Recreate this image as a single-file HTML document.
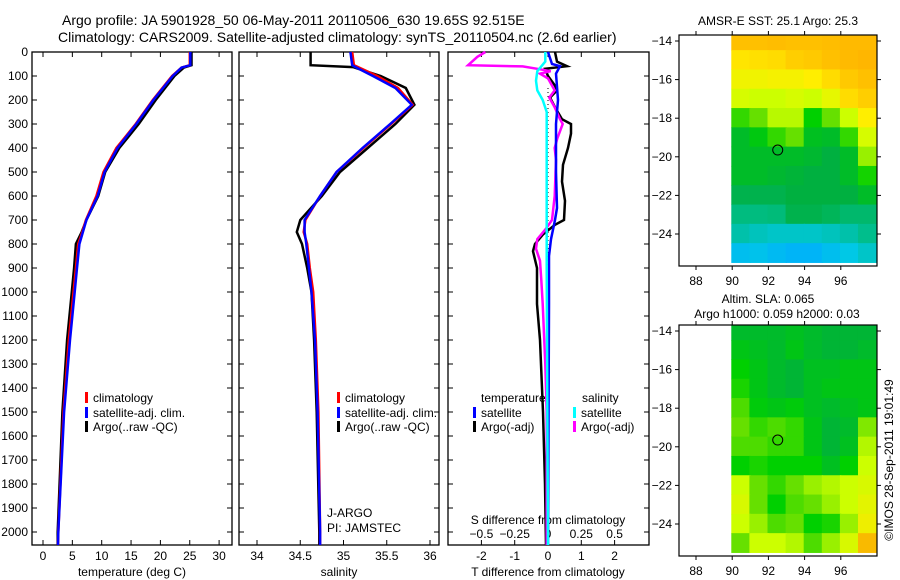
<!DOCTYPE html>
<html><head><meta charset="utf-8">
<style>
html,body{margin:0;padding:0;background:#fff;}
svg{display:block;font-family:"Liberation Sans",sans-serif;}
text{fill:#000;}
</style></head>
<body>
<svg id="chart" width="900" height="580" viewBox="0 0 900 580" xmlns="http://www.w3.org/2000/svg">
<text x="62" y="25" font-size="14">Argo profile: JA 5901928_50 06-May-2011 20110506_630 19.65S 92.515E</text>
<text x="58" y="42" font-size="14">Climatology: CARS2009. Satellite-adjusted climatology: synTS_20110504.nc (2.6d earlier)</text>
</svg>
<script>
// ---------- DATA ----------
const tDepths=[0,55,65,100,200,300,400,500,600,700,750,800,900,1000,1200,1500,2000,2054];
const tClim=[25.0,25.0,23.6,22.0,18.7,15.8,12.5,10.3,9.1,7.3,6.7,6.0,5.6,5.2,4.4,3.5,2.6,2.55];
const tSat=[25.1,25.1,23.6,22.1,18.8,15.9,12.7,10.5,9.3,7.4,6.8,6.2,5.8,5.4,4.6,3.6,2.6,2.55];
const tArgo=[25.3,25.3,24.0,22.4,19.2,16.3,13.0,10.6,9.4,7.4,6.6,5.6,5.3,4.9,4.1,3.3,2.5,2.5];
const sDepths=[0,55,63,100,150,220,300,400,500,600,700,750,800,900,1000,1200,1500,2000,2054];
const sClim=[35.10,35.12,35.17,35.39,35.63,35.80,35.55,35.23,34.92,34.73,34.56,34.54,34.58,34.61,34.65,34.68,34.71,34.73,34.73];
const sSat=[35.08,35.10,35.14,35.34,35.60,35.79,35.54,35.22,34.92,34.73,34.55,34.55,34.57,34.60,34.63,34.67,34.70,34.73,34.73];
const sArgo=[34.62,34.62,35.11,35.43,35.72,35.82,35.60,35.28,34.96,34.75,34.50,34.46,34.52,34.58,34.63,34.66,34.69,34.72,34.72];
const dtArgoDepths=[0,40,59,70,100,140,160,190,230,280,300,340,400,470,540,620,700,720,760,800,830,900,1050,1200,1500,1800,2054];
const dtArgo=[0.21,0.27,0.57,-0.09,0,0.21,0.27,0.06,0.21,0.42,0.69,0.69,0.6,0.45,0.42,0.51,0.48,0.21,-0.15,-0.39,-0.45,-0.33,-0.33,-0.24,-0.15,-0.09,-0.06];
const dtSatDepths=[0,50,59,90,200,300,500,650,700,780,850,1050,2054];
const dtSat=[0,0.12,0.36,0.24,0.3,0.24,0.24,0.27,0.21,0.09,0.03,0.03,0];
const dsSatDepths=[0,40,80,120,160,200,250,400,700,900,2054];
const dsSat=[-0.02,-0.02,-0.08,-0.09,-0.08,-0.04,-0.01,-0.01,-0.01,-0.01,0];
const dsArgoDepths=[0,20,55,60,70,80,90,110,160,190,230,280,300,360,400,450,600,700,740,780,820,870,950,1050,1300,1500,2054];
const dsArgo=[-0.47,-0.53,-0.6,-0.19,-0.08,0.02,-0.06,0,0.05,0.01,0.05,0.09,0.11,0.07,0.05,0.06,0.05,0.03,-0.02,-0.08,-0.09,-0.06,-0.05,-0.04,-0.02,-0.01,-0.01];
const depthTicks=[0,100,200,300,400,500,600,700,800,900,1000,1100,1200,1300,1400,1500,1600,1700,1800,1900,2000];
const tTicks=[0,5,10,15,20,25,30];
const sTicks=[34,34.5,35,35.5,36];
const dTTicks=[-2,-1,0,1,2];
const dSTicks=[-0.5,-0.25,0,0.25,0.5];
const mapLons=[90,91,92,93,94,95,96,97];
const mapLats=[-14,-15,-16,-17,-18,-19,-20,-21,-22,-23,-24,-25];
const lonTicks=[88,90,92,94,96];
const latTicks=[-14,-16,-18,-20,-22,-24];
const sstGrid=[
[0.9,0.9,0.91,0.9,0.9,0.91,0.92,0.92],
[0.82,0.83,0.84,0.87,0.88,0.9,0.92,0.93],
[0.77,0.77,0.78,0.78,0.8,0.84,0.88,0.9],
[0.72,0.7,0.7,0.72,0.7,0.75,0.84,0.87],
[0.55,0.6,0.68,0.68,0.5,0.6,0.7,0.8],
[0.45,0.48,0.55,0.6,0.46,0.45,0.55,0.72],
[0.45,0.45,0.45,0.45,0.44,0.42,0.45,0.65],
[0.45,0.45,0.44,0.43,0.42,0.42,0.45,0.52],
[0.4,0.4,0.4,0.42,0.42,0.42,0.42,0.45],
[0.32,0.32,0.33,0.4,0.4,0.38,0.35,0.35],
[0.25,0.22,0.2,0.2,0.2,0.22,0.25,0.3],
[0.1,0.12,0.08,0.05,0.05,0.1,0.15,0.2]];
const slaGrid=[
[0.1,0.1,0.1,0.15,0.1,0.05,0.05,0.05],
[0.2,0.15,0.1,0.2,0.1,0.05,0.05,0.1],
[0.3,0.2,0.1,0.05,0.15,0.15,0.2,0.2],
[0.35,0.2,0.1,0.05,0.15,0.2,0.2,0.2],
[0.45,0.25,0.2,0.25,0.15,0.1,0.15,0.2],
[0.5,0.4,0.45,0.4,0.2,0.05,0.1,0.55],
[0.45,0.45,0.4,0.4,0.2,0.05,0.15,0.65],
[0.3,0.35,0.3,0.3,0.3,0.15,0.3,0.7],
[0.7,0.5,0.4,0.5,0.6,0.65,0.7,0.75],
[0.75,0.5,0.3,0.45,0.5,0.6,0.7,0.8],
[0.7,0.6,0.45,0.5,0.3,0.35,0.6,0.85],
[0.5,0.7,0.7,0.65,0.45,0.6,0.75,0.95]];
const floatLon=92.515, floatLat=-19.65;

// ---------- HELPERS ----------
const svg=document.getElementById('chart');
const NS='http://www.w3.org/2000/svg';
function mk(tag,attrs,parent){const e=document.createElementNS(NS,tag);for(const k in attrs)e.setAttribute(k,attrs[k]);(parent||svg).appendChild(e);return e;}
function txt(x,y,s,size,anchor,parent){const e=mk('text',{x:x,y:y,'font-size':size||12,'text-anchor':anchor||'start'},parent);e.textContent=s;return e;}
const PT=52,PB=545;
function yD(d){return PT+d*0.24;}
function poly(xs,ds,color,w,name){
  const pts=xs.map((v,i)=>v.toFixed(1)+','+yD(ds[i]).toFixed(1)).join(' ');
  const e=mk('polyline',{points:pts,fill:'none',stroke:color,'stroke-width':w||2});
  
  
  return e;
}
function panelFrame(x0,x1,name,leftLabels){
  const g=mk('g',{});
  
  
  mk('rect',{x:x0,y:PT,width:x1-x0,height:PB-PT,fill:'none',stroke:'#000','stroke-width':1.3},g);
  depthTicks.forEach(d=>{
    mk('line',{x1:x0,x2:x0+5,y1:yD(d),y2:yD(d),stroke:'#000'},g);
    mk('line',{x1:x1-5,x2:x1,y1:yD(d),y2:yD(d),stroke:'#000'},g);
    if(leftLabels){const t=txt(x0-4,yD(d)+4,String(d),12,'end',g);}
  });
  return g;
}
function xTicks(g,xs,labels,y){
  xs.forEach((x,i)=>{
    mk('line',{x1:x,x2:x,y1:PB,y2:PB-5,stroke:'#000'},g);
    mk('line',{x1:x,x2:x,y1:PT,y2:PT+5,stroke:'#000'},g);
    if(labels){const t=txt(x,y,labels[i],12,'middle',g);}
  });
}
function legendEntry(x,y,color,label,g){
  const e=mk('g',{},g);
  
  
  mk('rect',{x:x,y:y-10,width:3,height:11,fill:color},e);
  txt(x+8,y,label,12,'start',e);
}

// ---------- PANEL 1: temperature ----------
const xT=v=>43+v*5.87;
let g1=panelFrame(32,232,'temperature-panel',true);
xTicks(g1,tTicks.map(xT),tTicks.map(String),560);
let l=txt(132,576,'temperature (deg C)',12,'middle',g1);
poly(tArgo.map(v=>xT(v)),tDepths,'#000',2.5,'temperature-argo-line');
poly(tClim.map(v=>xT(v)),tDepths,'#f00',2.5,'temperature-climatology-line');
poly(tSat.map(v=>xT(v)),tDepths,'#00f',2.5,'temperature-satellite-line');
legendEntry(85,402,'#f00','climatology',g1);
legendEntry(85,417,'#00f','satellite-adj. clim.',g1);
legendEntry(85,431,'#000','Argo(..raw -QC)',g1);

// ---------- PANEL 2: salinity ----------
const xS=v=>257+(v-34)*86.5;
let g2=panelFrame(239,439,'salinity-panel',false);
xTicks(g2,sTicks.map(xS),sTicks.map(String),560);
l=txt(339,576,'salinity',12,'middle',g2);
poly(sArgo.map(xS),sDepths,'#000',2.5,'salinity-argo-line');
poly(sClim.map(xS),sDepths,'#f00',2.5,'salinity-climatology-line');
poly(sSat.map(xS),sDepths,'#00f',2.5,'salinity-satellite-line');
legendEntry(337,402,'#f00','climatology',g2);
legendEntry(337,417,'#00f','satellite-adj. clim.',g2);
legendEntry(337,431,'#000','Argo(..raw -QC)',g2);
l=txt(327,517,'J-ARGO',12,'start',g2);
l=txt(327,532,'PI: JAMSTEC',12,'start',g2);

// ---------- PANEL 3: differences ----------
const xDT=v=>548+v*33.3;
const xDS=v=>548+v*133.2;
let g3=panelFrame(448,649,'difference-panel',false);
xTicks(g3,dTTicks.map(xDT),dTTicks.map(String),560);
dSTicks.forEach((v,i)=>{const t=txt(xDS(v),538,String(v).replace('-','\u2212'),12,'middle',g3);});
l=txt(548,524,'S difference from climatology',12,'middle',g3);
l=txt(548,576,'T difference from climatology',12,'middle',g3);
mk('line',{x1:548,x2:548,y1:yD(150),y2:yD(900),stroke:'#000','stroke-dasharray':'1,3'},g3);
poly(dtArgo.map(xDT),dtArgoDepths,'#000',2.5,'t-diff-argo-line');
poly(dsArgo.map(xDS),dsArgoDepths,'#f0f',2.5,'s-diff-argo-line');
poly(dtSat.map(xDT),dtSatDepths,'#00f',2.5,'t-diff-satellite-line');
poly(dsSat.map(xDS),dsSatDepths,'#0ff',2.5,'s-diff-satellite-line');
l=txt(481,402,'temperature',12,'start',g3);
l=txt(582,402,'salinity',12,'start',g3);
legendEntry(473,417,'#00f','satellite',g3);
legendEntry(473,431,'#000','Argo(-adj)',g3);
legendEntry(573,417,'#0ff','satellite',g3);
legendEntry(573,431,'#f0f','Argo(-adj)',g3);

// ---------- MAPS ----------
function lerp(stops,v){
  v=Math.max(0,Math.min(1,v));
  for(let i=1;i<stops.length;i++){if(v<=stops[i][0]){const a=stops[i-1],b=stops[i],t=(v-a[0])/(b[0]-a[0]);
    return 'rgb('+[1,2,3].map(k=>Math.round(a[k]+(b[k]-a[k])*t)).join(',')+')';}}
  const s=stops[stops.length-1];return 'rgb('+s[1]+','+s[2]+','+s[3]+')';
}
const sstStops=[[0,0,170,255],[0.15,0,200,230],[0.3,0,190,140],[0.42,0,176,64],[0.5,0,208,0],[0.6,102,224,0],[0.7,204,255,0],[0.8,255,238,0],[0.9,255,192,0],[1,255,160,0]];
const slaStops=[[0,0,176,64],[0.3,0,208,0],[0.5,102,224,0],[0.7,204,255,0],[0.85,238,238,0],[1,255,160,0]];
function drawMap(top,grid,stops,name){
  const X0=679,X1=877,Y0=top,Y1=top+231,latTopY=top+6;
  const xL=lon=>696+(lon-88)*18.1;
  const yL=lat=>latTopY+(-14-lat)*19.3;
  const g=mk('g',{});
  
  
  const cp=mk('clipPath',{id:name+'-clip'},g);mk('rect',{x:X0,y:Y0,width:X1-X0,height:Y1-Y0},cp);
  const cells=mk('g',{'clip-path':'url(#'+name+'-clip)'},g);
  grid.forEach((row,r)=>row.forEach((v,c)=>{
    const lon=mapLons[c],lat=mapLats[r];
    const x=Math.max(xL(lon-0.05),xL(89.9));
    const e=mk('rect',{x:x,y:yL(lat+0.5)-0.5,width:xL(lon+1)-x+0.5,height:19.8,fill:lerp(stops,v)},cells);
    
    
  }));
  mk('rect',{x:X0,y:Y0,width:X1-X0,height:Y1-Y0,fill:'none',stroke:'#000','stroke-width':1.2},g);
  lonTicks.forEach(lon=>{const x=xL(lon);
    mk('line',{x1:x,x2:x,y1:Y1,y2:Y1+4,stroke:'#000'},g);mk('line',{x1:x,x2:x,y1:Y0,y2:Y0-4,stroke:'#000'},g);
    const t=txt(x,Y1+19,String(lon),12,'middle',g);});
  latTicks.forEach(lat=>{const y=yL(lat);
    mk('line',{x1:X0-4,x2:X0,y1:y,y2:y,stroke:'#000'},g);mk('line',{x1:X1,x2:X1+4,y1:y,y2:y,stroke:'#000'},g);
    const t=txt(X0-7,y+4,String(lat).replace('-','\u2212'),12,'end',g);});
  const c=mk('circle',{cx:xL(floatLon),cy:yL(floatLat),r:5,fill:'none',stroke:'#000','stroke-width':1},g);
  
  
  return g;
}
let m1=drawMap(35,sstGrid,sstStops,'sst-map');
l=txt(778,25,'AMSR-E SST: 25.1 Argo: 25.3',12,'middle',m1);
let m2=drawMap(325,slaGrid,slaStops,'sla-map');
l=txt(768,303,'Altim. SLA: 0.065',12,'middle',m2);
l=txt(777,318,'Argo h1000: 0.059 h2000: 0.03',12,'middle',m2);
l=txt(0,0,'\u00A9IMOS 28-Sep-2011 19:01:49',12,'middle');
l.setAttribute('transform','translate(893,460) rotate(-90)');


</script>
</body></html>
